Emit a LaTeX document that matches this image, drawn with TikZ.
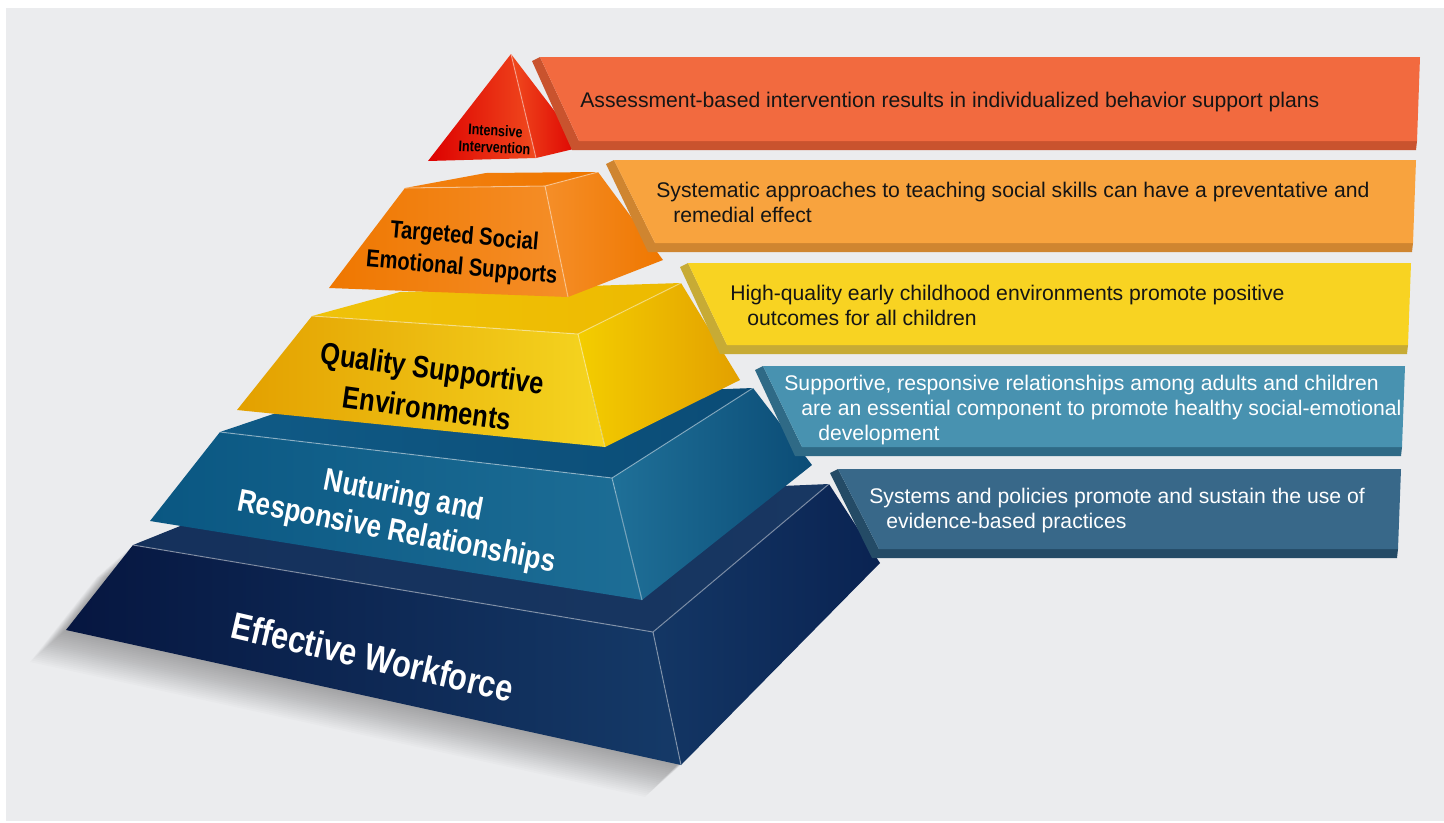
\documentclass[tikz,border=0pt]{standalone}
\usepackage{fontspec}
\setmainfont{Liberation Sans}
\newfontfamily\tierfont{Liberation Sans}[FakeStretch=0.82]
\usepackage{xcolor}
\definecolor{panel}{HTML}{EBECEE}
\definecolor{noteRed}{HTML}{F26A3F}
\definecolor{noteRedSide}{HTML}{C9532E}
\definecolor{noteOrange}{HTML}{F8A33E}
\definecolor{noteOrangeSide}{HTML}{CF8530}
\definecolor{noteYellow}{HTML}{F8D322}
\definecolor{noteYellowSide}{HTML}{C7AB35}
\definecolor{noteTeal}{HTML}{4892B0}
\definecolor{noteTealSide}{HTML}{2F6A86}
\definecolor{noteSlate}{HTML}{386889}
\definecolor{noteSlateSide}{HTML}{244B66}
\definecolor{inkdark}{HTML}{151515}
% tier colours
\definecolor{navyA}{HTML}{061640}
\definecolor{navyB}{HTML}{153A68}
\definecolor{navyC}{HTML}{0A2352}
\definecolor{navyTop}{HTML}{183762}
\definecolor{blueA}{HTML}{0A5782}
\definecolor{blueB}{HTML}{1F7098}
\definecolor{blueC}{HTML}{0B4C76}
\definecolor{blueTop}{HTML}{0E5884}
\definecolor{goldA}{HTML}{E3A000}
\definecolor{goldB}{HTML}{F3CD00}
\definecolor{goldC}{HTML}{F5D520}
\definecolor{goldTop}{HTML}{EDBA00}
\definecolor{amberA}{HTML}{EF7700}
\definecolor{amberB}{HTML}{F58E28}
\definecolor{amberTop}{HTML}{F28010}
\definecolor{crimsonA}{HTML}{DD0000}
\definecolor{crimsonB}{HTML}{F04A1E}
\usetikzlibrary{calc}
\newcommand{\tierlabel}[2]{\tierfont\bfseries\fontsize{#1}{#2}\selectfont}
% note box: top y, bottom y, top-left x, bottom-left x, right x, face, side
\newcommand{\notebox}[7]{%
  \fill[#7] ({#3-8},{#1+4}) -- (#3,#1) -- (#4,#2) -- ({#5-3},#2) -- ({#5-4},{#2+9}) -- ({#4-7},{#2+9}) -- cycle;
  \fill[#6] (#3,#1) -- (#5,#1) -- ({#5-3},#2) -- (#4,#2) -- cycle;}

\begin{document}
\begin{tikzpicture}[x=0.02cm, y=-0.02cm,
    notetext/.style={anchor=base west, inner sep=0pt, font=\fontsize{12.05}{14}\selectfont},
    ridge/.style={white, opacity=0.4, line width=0.6pt}]
\useasboundingbox (0,0) rectangle (1444,822);
\fill[white] (0,0) rectangle (1444,822);
\fill[panel] (6,8) rectangle (1444,821);

% soft shadow under the base
\foreach \s in {2,4,...,40}
  \fill[black, opacity=0.016, shift={(-\s*0.9,\s*0.8)}] (66,630) -- (681,765) -- (880,563) -- (829,484) -- (133,545) -- cycle;

% Effective Workforce
\shade[left color=navyTop!80!navyA, right color=navyTop] (133,545) -- (653,632) -- (829,484) -- (220,510) -- cycle;
\shade[left color=navyA, right color=navyB] (133,545) -- (653,632) -- (681,765) -- (66,630) -- cycle;
\shade[left color=navyB!85!navyC, right color=navyC] (653,632) -- (829,484) -- (880,563) -- (681,765) -- cycle;
\draw[ridge] (133,545) -- (653,632) -- (829,484);
\draw[ridge] (653,632) -- (681,765);

% Nuturing and Responsive Relationships
\shade[left color=blueTop!90!blueB, right color=blueC] (220,432) -- (612,478) -- (753,388) -- (300,405) -- cycle;
\shade[left color=blueA, middle color=blueB, right color=blueB!90!blueA] (220,432) -- (612,478) -- (642,600) -- (150,521) -- cycle;
\shade[left color=blueB, right color=blueC] (612,478) -- (753,388) -- (812,465) -- (642,600) -- cycle;
\draw[ridge] (220,432) -- (612,478) -- (753,388);
\draw[ridge] (612,478) -- (642,600);

% Quality Supportive Environments
\shade[left color=goldTop!70!goldC, right color=goldTop] (312,316) -- (578,334) -- (681,283) -- (400,292) -- cycle;
\shade[left color=goldA, middle color=goldB!85!goldA, right color=goldC] (312,316) -- (578,334) -- (605,447) -- (237,410) -- cycle;
\shade[left color=goldB, right color=goldA] (578,334) -- (681,283) -- (740,380) -- (605,447) -- cycle;
\draw[ridge] (312,316) -- (578,334) -- (681,283);
\draw[ridge] (578,334) -- (605,447);

% Targeted Social Emotional Supports
\shade[left color=amberTop, right color=amberA] (405,188) -- (545,186) -- (598,172) -- (486,173) -- cycle;
\shade[left color=amberA, right color=amberB] (405,188) -- (545,186) -- (568,297) -- (329,288) -- cycle;
\shade[left color=amberB, right color=amberA] (545,186) -- (598,172) -- (663,260) -- (568,297) -- cycle;
\draw[ridge] (405,188) -- (545,186) -- (598,172);
\draw[ridge] (545,186) -- (568,297);

% Intensive Intervention
\shade[left color=crimsonA, right color=crimsonB] (511,54) -- (536,158) -- (428,161) -- cycle;
\shade[left color=crimsonB, right color=crimsonA] (511,54) -- (582,147) -- (536,158) -- cycle;
\draw[ridge] (511,54) -- (536,158);

% tier labels
\node[align=center, rotate=-3, text=black, font=\tierlabel{8.7}{9.6}] (intensive) at (495,139) {Intensive\\Intervention};
\node[align=center, rotate=-5, text=black, font=\tierlabel{14}{18}] (targeted) at (463,253) {Targeted Social\\Emotional Supports};
\node[align=center, rotate=-8, text=black, font=\tierlabel{17.6}{23}] (quality) at (430,388) {Quality Supportive\\Environments};
\node[align=center, rotate=-11, text=white, font=\tierlabel{18}{21}] (nuturing) at (400,515) {Nuturing and\\Responsive Relationships};
\node[align=center, rotate=-13, text=white, font=\tierlabel{21.3}{24}] (workforce) at (373,657) {Effective Workforce};

% note boxes
\notebox{57}{141}{540}{579}{1420}{noteRed}{noteRedSide}
\notebox{160}{243}{614}{655}{1416}{noteOrange}{noteOrangeSide}
\notebox{263}{345}{688}{727}{1411}{noteYellow}{noteYellowSide}
\notebox{366}{447}{763}{802}{1405}{noteTeal}{noteTealSide}
\notebox{469}{549}{838}{879}{1401}{noteSlate}{noteSlateSide}

\node[notetext, text=inkdark] (note1) at (580,107) {Assessment-based intervention results in individualized behavior support plans};
\node[notetext, text=inkdark] (note2a) at (656,197) {Systematic approaches to teaching social skills can have a preventative and};
\node[notetext, text=inkdark] (note2b) at (673,222) {remedial effect};
\node[notetext, text=inkdark] (note3a) at (730,300) {High-quality early childhood environments promote positive};
\node[notetext, text=inkdark] (note3b) at (747,325) {outcomes for all children};
\node[notetext, text=white] (note4a) at (784,390) {Supportive, responsive relationships among adults and children};
\node[notetext, text=white] (note4b) at (801,415) {are an essential component to promote healthy social-emotional};
\node[notetext, text=white] (note4c) at (818,440) {development};
\node[notetext, text=white] (note5a) at (869,503) {Systems and policies promote and sustain the use of};
\node[notetext, text=white] (note5b) at (886,528) {evidence-based practices};
\end{tikzpicture}
\end{document}
